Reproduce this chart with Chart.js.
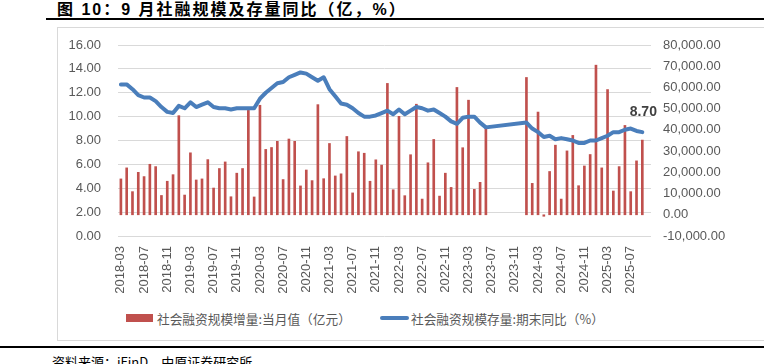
<!DOCTYPE html>
<html>
<head>
<meta charset="utf-8">
<script src="https://cdn.jsdelivr.net/npm/chart.js@4.4.1/dist/chart.umd.min.js"></script>
<style>
  body { margin: 0; background: #fff; }
  #wrap { position: relative; width: 764px; height: 364px; overflow: hidden; font-family: "Liberation Sans", "Noto Sans CJK SC", sans-serif; }
  #title { position: absolute; left: 57px; top: -4px; font: bold 16px "Liberation Sans", "Noto Sans CJK SC", sans-serif; letter-spacing: 2px; color: #000; white-space: nowrap; }
  #rule1 { position: absolute; left: 46px; top: 18px; width: 730px; height: 2px; background: #000; }
  #frame { position: absolute; left: 57px; top: 27px; width: 720px; height: 312px; border: 1px solid #d9d9d9; }
  #rule2 { position: absolute; left: 0; top: 346px; width: 764px; height: 2px; background: #000; }
  #source { position: absolute; left: 52px; top: 352px; font: 13px "Noto Sans CJK SC", sans-serif; color: #000; white-space: nowrap; }
  canvas { position: absolute; left: 0; top: 0; }
  .leg { position: absolute; font: 12.7px "Noto Sans CJK SC", sans-serif; color: #595959; white-space: nowrap; }
</style>
</head>
<body>
<div id="wrap">
  <div id="title">图 10：9 月社融规模及存量同比（亿，%）</div>
  <div id="rule1"></div>
  <div id="frame"></div>
  <canvas id="chart" width="764" height="300"></canvas>
  <div class="leg" style="left:126px;top:314px;width:27px;height:8px;background:#C0504D;"></div>
  <div class="leg" style="left:157px;top:309px;">社会融资规模增量:当月值（亿元）</div>
  <div class="leg" style="left:380px;top:316px;width:29px;height:4px;background:#4A7EBB;border-radius:2px;"></div>
  <div class="leg" style="left:411px;top:309px;">社会融资规模存量:期末同比（%）</div>
  <div id="rule2"></div>
  <div id="source">资料来源：iFinD，中原证券研究所</div>
</div>
<script>
// months 2018-03 .. 2025-10 (last one empty)
const months = [
  "2018-03","2018-04","2018-05","2018-06","2018-07","2018-08","2018-09","2018-10","2018-11","2018-12",
  "2019-01","2019-02","2019-03","2019-04","2019-05","2019-06","2019-07","2019-08","2019-09","2019-10","2019-11","2019-12",
  "2020-01","2020-02","2020-03","2020-04","2020-05","2020-06","2020-07","2020-08","2020-09","2020-10","2020-11","2020-12",
  "2021-01","2021-02","2021-03","2021-04","2021-05","2021-06","2021-07","2021-08","2021-09","2021-10","2021-11","2021-12",
  "2022-01","2022-02","2022-03","2022-04","2022-05","2022-06","2022-07","2022-08","2022-09","2022-10","2022-11","2022-12",
  "2023-01","2023-02","2023-03","2023-04","2023-05","2023-06","2023-07","2023-08","2023-09","2023-10","2023-11","2023-12",
  "2024-01","2024-02","2024-03","2024-04","2024-05","2024-06","2024-07","2024-08","2024-09","2024-10","2024-11","2024-12",
  "2025-01","2025-02","2025-03","2025-04","2025-05","2025-06","2025-07","2025-08","2025-09","2025-10"
];

// 社会融资规模增量:当月值（亿元）
const flowValues = [
  16900, 22100, 10900, 20000, 18000, 23800, 22700, 9100, 15800, 18900,
  46700, 9300, 29200, 16400, 16900, 26000, 12600, 21800, 24900, 8500, 19600, 21800,
  49200, 8400, 51600, 30800, 31700, 34600, 16600, 35700, 34600, 13600, 21100, 16100,
  51900, 17000, 33600, 18300, 19300, 36900, 10300, 29700, 29000, 15800, 25900, 23400,
  61900, 11800, 46400, 9000, 28300, 52100, 7400, 24500, 35500, 8800, 19600, 12900,
  60000, 31600, 54000, 12000, 15300, 41700, null, null, null, null, null, null,
  64700, 14800, 48400, -700, 20400, 32800, 7400, 30100, 37400, 13700, 23000, 28400,
  70500, 22100, 59000, 11200, 22700, 42100, 10900, 25400, 35200, null
];

// 社会融资规模存量:期末同比（%）
const stockYoy = [
  12.7, 12.7, 12.3, 11.8, 11.6, 11.6, 11.3, 10.8, 10.4, 10.3,
  10.9, 10.7, 11.2, 10.8, 11.0, 11.2, 10.8, 10.7, 10.7, 10.6, 10.7, 10.7,
  10.7, 10.7, 11.5, 12.0, 12.4, 12.8, 12.9, 13.3, 13.5, 13.7, 13.6, 13.3,
  13.0, 13.3, 12.3, 11.7, 11.1, 11.0, 10.7, 10.3, 10.0, 10.0, 10.1, 10.3,
  10.5, 10.2, 10.6, 10.2, 10.5, 10.8, 10.7, 10.5, 10.6, 10.3, 10.0, 9.6,
  9.4, 9.9, 10.0, 10.0, 9.5, 9.1, null, null, null, null, null, null,
  9.5, 9.0, 8.7, 8.3, 8.4, 8.1, 8.2, 8.1, 8.0, 7.8, 7.8, 8.0,
  8.0, 8.2, 8.4, 8.7, 8.7, 8.9, 9.0, 8.8, 8.7, null
];

const leftTicks = [0, 2, 4, 6, 8, 10, 12, 14, 16];
const rightTicks = [-10000, 0, 10000, 20000, 30000, 40000, 50000, 60000, 70000, 80000];

const tickFont = { family: "Liberation Sans", size: 13 };
const tickColor = "#595959";

// label on the last line point
const lastLabel = {
  id: "lastLabel",
  afterDatasetsDraw(chart) {
    const meta = chart.getDatasetMeta(1);
    let idx = stockYoy.length - 1;
    while (stockYoy[idx] == null) idx--;
    const pt = meta.data[idx];
    const ctx = chart.ctx;
    ctx.save();
    ctx.font = "bold 14px 'Liberation Sans'";
    ctx.fillStyle = "#404040";
    ctx.textAlign = "center";
    ctx.textBaseline = "middle";
    ctx.fillText(stockYoy[idx].toFixed(2), pt.x + 1, pt.y - 20);
    ctx.restore();
  }
};

new Chart(document.getElementById("chart"), {
  data: {
    labels: months,
    datasets: [
      {
        type: "bar",
        label: "社会融资规模增量:当月值（亿元）",
        data: flowValues,
        yAxisID: "y1",
        backgroundColor: "#C0504D",
        barThickness: 2,
        order: 1
      },
      {
        type: "line",
        label: "社会融资规模存量:期末同比（%）",
        data: stockYoy,
        yAxisID: "y",
        borderColor: "#4A7EBB",
        borderWidth: 4,
        pointRadius: 0,
        tension: 0,
        spanGaps: true,
        borderCapStyle: "round",
        borderJoinStyle: "round",
        order: 0
      }
    ]
  },
  options: {
    responsive: false,
    animation: false,
    layout: { padding: { top: 45, left: 0, right: 0, bottom: 0 } },
    plugins: {
      legend: { display: false },
      tooltip: { enabled: false }
    },
    scales: {
      x: {
        type: "category",
        offset: true,
        grid: { display: false, drawTicks: false },
        border: { display: false },
        afterFit(scale) { scale.height = 64; },
        ticks: {
          autoSkip: false,
          maxRotation: 90,
          minRotation: 90,
          padding: 10,
          color: tickColor,
          font: tickFont,
          callback(v, i) { return i % 4 === 0 ? months[i] : ""; }
        }
      },
      y: {
        position: "left",
        min: leftTicks[0],
        max: leftTicks[leftTicks.length - 1],
        afterFit(scale) { scale.width = 118; },
        afterBuildTicks(scale) { scale.ticks = leftTicks.map(v => ({ value: v })); },
        grid: { color: "#d9d9d9", lineWidth: 1, drawTicks: false },
        border: { display: false },
        ticks: {
          padding: 17,
          color: tickColor,
          font: tickFont,
          callback(v) { return v.toFixed(2); }
        }
      },
      y1: {
        position: "right",
        min: rightTicks[0],
        max: rightTicks[rightTicks.length - 1],
        afterFit(scale) { scale.width = 113; },
        afterBuildTicks(scale) { scale.ticks = rightTicks.map(v => ({ value: v })); },
        grid: { display: false, drawTicks: false },
        border: { display: false },
        ticks: {
          padding: 12,
          color: tickColor,
          font: tickFont,
          callback(v) { return v.toLocaleString("en-US", { minimumFractionDigits: 2, maximumFractionDigits: 2 }); }
        }
      }
    }
  },
  plugins: [lastLabel]
});
</script>
</body>
</html>
